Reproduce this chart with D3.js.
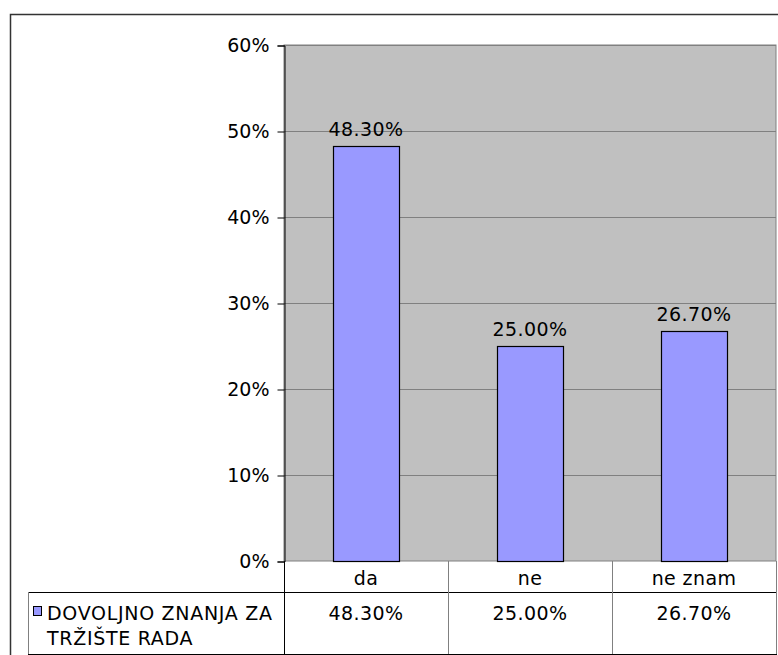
<!DOCTYPE html>
<html>
<head>
<meta charset="utf-8">
<script src="https://cdn.jsdelivr.net/npm/d3@7"></script>
<style>
  body{margin:0;background:#fff;}
  text{font-family:"DejaVu Sans",Verdana,sans-serif;fill:#000;}
</style>
</head>
<body>
<svg width="778" height="655"></svg>
<script>
var categories=["da","ne","ne znam"];
var values=[48.3,25.0,26.7];
var seriesName=["DOVOLJNO ZNANJA ZA","TRŽIŠTE RADA"];
var yTicks=[0,10,20,30,40,50,60];

var svg=d3.select("svg");
var plot={left:284,top:45,right:776,bottom:561};
var fs="19px";

// outer chart border
svg.append("rect")
   .attr("x",10.5).attr("y",14.5)
   .attr("width",900).attr("height",900)
   .attr("fill","#fff").attr("stroke","#333").attr("stroke-width",1.5);

var xScale=d3.scaleBand()
             .domain(categories)
             .range([plot.left,plot.right])
             .paddingInner(0.6).paddingOuter(0.3);
var yScale=d3.scaleLinear()
             .domain([0,60])
             .range([plot.bottom,plot.top]);

svg.append("rect")
   .attr("x",plot.left).attr("y",plot.top)
   .attr("width",plot.right-plot.left).attr("height",plot.bottom-plot.top)
   .attr("fill","#c0c0c0").attr("stroke","#808080");

svg.append("g").selectAll("line")
   .data(yTicks.slice(1))
   .enter().append("line")
   .attr("x1",plot.left).attr("x2",plot.right)
   .attr("y1",function(d){return Math.round(yScale(d))+0.5})
   .attr("y2",function(d){return Math.round(yScale(d))+0.5})
   .attr("stroke","#808080");

var yAxis=d3.axisLeft(yScale)
            .tickValues(yTicks)
            .tickFormat(function(d){return d+"%"})
            .tickSize(7).tickPadding(8);
var ay=svg.append("g").attr("transform","translate("+(plot.left+0.5)+",0.5)").call(yAxis);
ay.selectAll("text").style("font-size",fs);
ay.selectAll("line,path").attr("stroke","#000");

svg.append("g").selectAll("rect")
   .data(values)
   .enter().append("rect")
   .attr("x",function(d,i){return Math.round(xScale(categories[i]))+0.5})
   .attr("y",function(d){return Math.round(yScale(d))+0.5})
   .attr("width",Math.round(xScale.bandwidth()))
   .attr("height",function(d){return Math.round(plot.bottom-yScale(d))})
   .attr("fill","#9999ff").attr("stroke","#000").attr("stroke-width",1.2);

svg.append("g").selectAll("text")
   .data(values)
   .enter().append("text")
   .attr("x",function(d,i){return xScale(categories[i])+xScale.bandwidth()/2})
   .attr("y",function(d){return yScale(d)-10})
   .attr("text-anchor","middle")
   .style("font-size",fs).style("letter-spacing","0.4px")
   .text(function(d){return d.toFixed(2)+"%"});

// data table
var colW=(plot.right-plot.left)/categories.length;
var row1=plot.bottom, row2=592, row3=654, legLeft=28;
var tbl=svg.append("g");
tbl.append("line").attr("x1",legLeft).attr("x2",plot.right+1).attr("y1",row2+0.5).attr("y2",row2+0.5).attr("stroke","#000");
tbl.append("line").attr("x1",legLeft).attr("x2",plot.right+1).attr("y1",row3+0.5).attr("y2",row3+0.5).attr("stroke","#000");
tbl.append("line").attr("x1",legLeft+0.5).attr("x2",legLeft+0.5).attr("y1",row2).attr("y2",row3).attr("stroke","#808080");
tbl.selectAll("line.col")
   .data(d3.range(categories.length+1))
   .enter().append("line").attr("class","col")
   .attr("x1",function(i){return plot.left+i*colW+0.5})
   .attr("x2",function(i){return plot.left+i*colW+0.5})
   .attr("y1",row1).attr("y2",row3)
   .attr("stroke",function(i){return i==0?"#000":"#808080"});
tbl.selectAll("text.cat")
   .data(categories)
   .enter().append("text").attr("class","cat")
   .attr("x",function(d,i){return plot.left+(i+0.5)*colW})
   .attr("y",585).attr("text-anchor","middle")
   .style("font-size",fs).style("letter-spacing","0.4px")
   .text(function(d){return d});
tbl.selectAll("text.val")
   .data(values)
   .enter().append("text").attr("class","val")
   .attr("x",function(d,i){return plot.left+(i+0.5)*colW})
   .attr("y",620).attr("text-anchor","middle")
   .style("font-size",fs).style("letter-spacing","0.4px")
   .text(function(d){return d.toFixed(2)+"%"});
tbl.append("rect").attr("x",33.5).attr("y",606.5).attr("width",8).attr("height",9)
   .attr("fill","#9999ff").attr("stroke","#000");
tbl.selectAll("text.leg")
   .data(seriesName)
   .enter().append("text").attr("class","leg")
   .attr("x",47).attr("y",function(d,i){return 620+i*25})
   .style("font-size",fs).style("letter-spacing","0.7px")
   .text(function(d){return d});
</script>
</body>
</html>
